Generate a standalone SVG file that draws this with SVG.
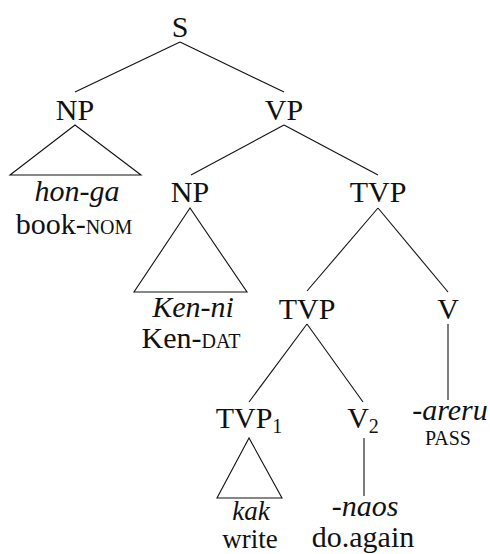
<svg xmlns="http://www.w3.org/2000/svg" width="490" height="554" viewBox="0 0 490 554">
<style>
text{font-family:'Liberation Serif','DejaVu Serif',serif;font-size:30px;fill:#111;text-anchor:middle}
.it{font-style:italic}
.sc{font-size:20px}
.sub{font-size:20px}
.sm{font-size:27px}
.e{stroke:#111;stroke-width:1.1;fill:none}
</style>
<rect width="490" height="554" fill="#fff"/>
<g id="connectors" class="e">
<line x1="180" y1="42" x2="75" y2="92"/>
<line x1="180" y1="42" x2="284" y2="92"/>
<line x1="284" y1="125" x2="191" y2="175"/>
<line x1="284" y1="125" x2="378" y2="175"/>
<line x1="378" y1="208" x2="307" y2="291"/>
<line x1="378" y1="208" x2="448" y2="292"/>
<line x1="307" y1="324" x2="249" y2="402"/>
<line x1="307" y1="324" x2="363" y2="402"/>
<line x1="448" y1="324" x2="448" y2="400"/>
<line x1="364" y1="438" x2="364" y2="496"/>
</g>
<g id="S"><text x="180" y="37">S</text></g>
<g id="NP1"><text x="75" y="120">NP</text>
<polygon class="e" points="75,125 10,175 141,175"/>
<text class="it" x="77" y="201">hon-ga</text>
<text x="74" y="234">book-<tspan class="sc">NOM</tspan></text></g>
<g id="VP"><text x="284" y="120">VP</text></g>
<g id="NP2"><text x="190" y="202">NP</text>
<polygon class="e" points="190,208 134,292 247,292"/>
<text class="it" x="193" y="317">Ken-ni</text>
<text x="191" y="348">Ken-<tspan class="sc">DAT</tspan></text></g>
<g id="TVP"><text x="378" y="202">TVP</text></g>
<g id="TVP2"><text x="307" y="319">TVP</text></g>
<g id="V"><text x="448" y="319">V</text>
<text class="it" x="450" y="420">-areru</text>
<text class="sc" x="448" y="445">PASS</text></g>
<g id="TVP1"><text x="249" y="428">TVP<tspan class="sub" dy="5">1</tspan></text>
<polygon class="e" points="249,438 217,498 282,498"/>
<text class="it sm" x="251" y="520">kak</text>
<text class="sm" x="250" y="548">write</text></g>
<g id="V2"><text x="363" y="428">V<tspan class="sub" dy="5">2</tspan></text>
<text class="it" x="365" y="516">-naos</text>
<text x="363" y="547">do.again</text></g>
</svg>
